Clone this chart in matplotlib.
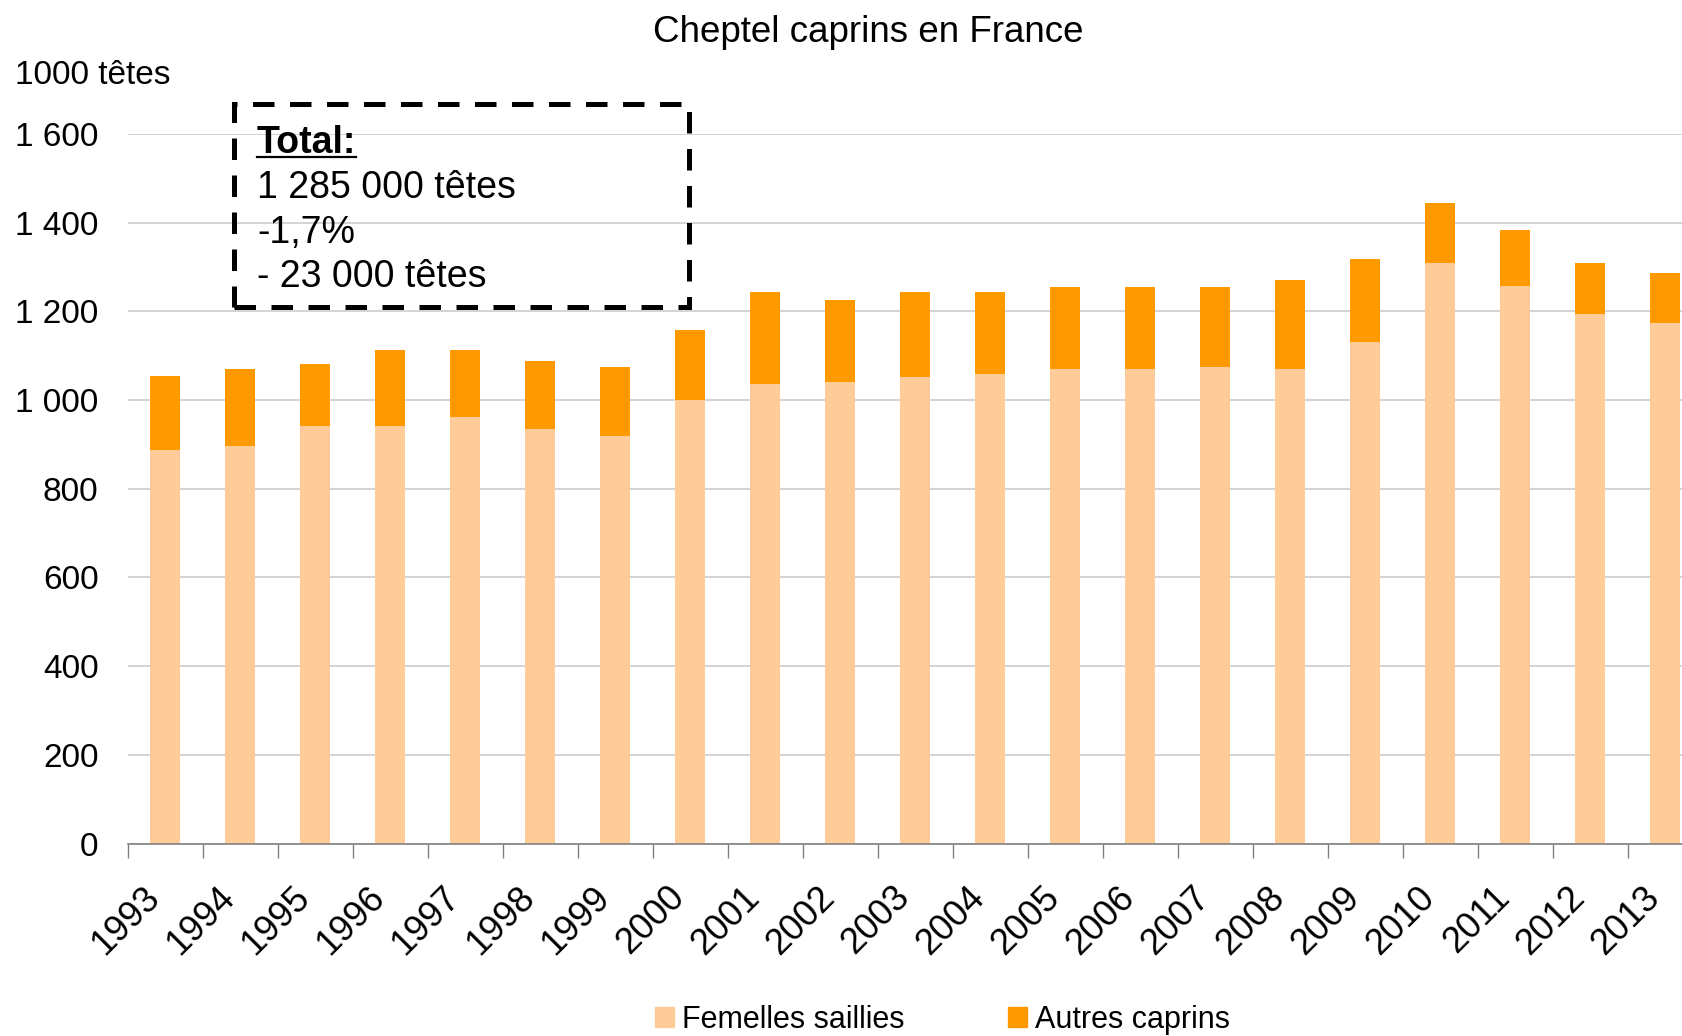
import matplotlib
matplotlib.use("Agg")
import matplotlib.pyplot as plt
import matplotlib.transforms as mtransforms
from matplotlib.patches import Rectangle, Patch
from matplotlib.lines import Line2D
from matplotlib.ticker import FuncFormatter
import numpy as np

plt.rcParams['font.family'] = ['Liberation Sans', 'DejaVu Sans']

# data (1000 tetes)
years = [str(y) for y in range(1993, 2014)]
femelles = [887, 896, 941, 941, 961, 934, 918, 1000, 1037, 1041, 1052,
            1059, 1071, 1071, 1075, 1071, 1130, 1308, 1258, 1194, 1173]
autres = [168, 175, 141, 173, 153, 153, 157, 157, 207, 185, 192,
          185, 184, 184, 180, 200, 189, 137, 125, 114, 114]
yticks = [0, 200, 400, 600, 800, 1000, 1200, 1400, 1600]

c_fem = '#FFCC99'
c_aut = '#FF9900'

W, H = 1683, 1036
fig = plt.figure(figsize=(W / 100, H / 100), dpi=100)
ax = fig.add_axes([127.7 / W, 1 - 843.5 / H, 1575 / W, (843.5 - 134) / H])

x = np.arange(len(years))
ax.bar(x, femelles, width=0.4, color=c_fem, zorder=2)
ax.bar(x, autres, width=0.4, bottom=femelles, color=c_aut, zorder=2)

ax.set_xlim(-0.5, len(years) - 0.5)
ax.set_ylim(0, 1600)
ax.set_yticks(yticks)
ax.yaxis.set_major_formatter(FuncFormatter(lambda v, p: f"{int(v):,}".replace(",", " ")))
ax.grid(axis='y', color='#C8C8C8', lw=1.1, zorder=0)
ax.tick_params(axis='y', length=0, pad=21, labelsize=24)

ax.set_xticks(x)
ax.set_xticklabels(years, rotation=45, ha='right', va='top', rotation_mode='anchor')
ax.tick_params(axis='x', which='major', length=0, pad=26, labelsize=26)
shift = mtransforms.ScaledTranslation(-23 / 100, 0, fig.dpi_scale_trans)
for lab in ax.get_xticklabels():
    lab.set_transform(lab.get_transform() + shift)
ax.set_xticks(np.arange(-0.5, len(years), 1), minor=True)
ax.tick_params(axis='x', which='minor', length=10, width=1, color='#808080', direction='out')

for s in ['left', 'right', 'top']:
    ax.spines[s].set_visible(False)
ax.spines['bottom'].set_color('#808080')
ax.spines['bottom'].set_linewidth(1.2)

fig.text(868 / W, 1 - 33 / H, 'Cheptel caprins en France', ha='center', va='center', fontsize=26.5)
fig.text(15 / W, 1 - 76 / H, '1000 têtes', ha='left', va='center', fontsize=24)

# dashed box
box = Rectangle((234 / W, 1 - 307 / H), (689 - 234) / W, (307 - 104) / H,
                transform=fig.transFigure, fill=False, edgecolor='black',
                lw=3.6, linestyle=(0, (4.3, 3.1)), zorder=5)
fig.patches.append(box)

t_total = fig.text(257 / W, 1 - 153 / H, 'Total:', ha='left', va='baseline',
                   fontsize=27, fontweight='bold')
lines = ['1 285 000 têtes', '-1,7%', '- 23 000 têtes']
for i, s in enumerate(lines):
    fig.text(257 / W, 1 - (198 + 44.7 * i) / H, s, ha='left', va='baseline', fontsize=27)

fig.canvas.draw()
bb = t_total.get_window_extent()
fig.add_artist(Line2D([bb.x0 / W, bb.x1 / W], [1 - 157 / H, 1 - 157 / H],
                      transform=fig.transFigure, color='black', lw=1.6))

handles = [Patch(color=c_fem, label='Femelles saillies'),
           Patch(color=c_aut, label='Autres caprins')]
fig.legend(handles=handles, loc='center', bbox_to_anchor=(0.560, 1 - 1020 / H),
           ncol=2, frameon=False, fontsize=22, handlelength=0.62, handleheight=0.62,
           handletextpad=0.25, columnspacing=3.4, borderpad=0)

fig.savefig('out.png', dpi=100)
